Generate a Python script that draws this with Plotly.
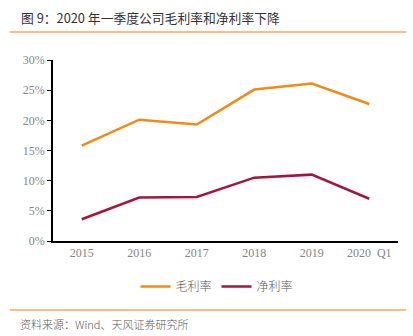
import plotly.graph_objects as go

categories = ["2015", "2016", "2017", "2018", "2019", "2020  Q1"]
gross_margin = [15.8, 20.1, 19.3, 25.1, 26.1, 22.7]
net_margin = [3.6, 7.2, 7.3, 10.5, 11.0, 7.0]
y_ticks = [0, 5, 10, 15, 20, 25, 30]
y_tick_text = [f"{v}%" for v in y_ticks]

title_text = "图 9：2020 年一季度公司毛利率和净利率下降"
source_text = "资料来源：Wind、天风证券研究所"

tick_font = dict(family="Liberation Serif, DejaVu Serif", size=12, color="#858585")

# plot area in pixels
L, R, T, B = 53, 15, 60, 95
W, H = 413 - L - R, 336 - T - B


def px_x(x):
    return (x - L) / W


def px_y(y):
    return (336 - B - y) / H


fig = go.Figure()
fig.add_trace(go.Scatter(
    x=categories, y=gross_margin, mode="lines", name="毛利率",
    line=dict(color="#EE8C1A", width=2.5),
))
fig.add_trace(go.Scatter(
    x=categories, y=net_margin, mode="lines", name="净利率",
    line=dict(color="#A3173F", width=2.5),
))

fig.update_layout(
    width=413, height=336,
    margin=dict(l=L, r=R, t=T, b=B),
    paper_bgcolor="white", plot_bgcolor="white",
    font=dict(family="Noto Sans CJK SC", color="#555555"),
    showlegend=True,
    legend=dict(
        orientation="h", x=px_x(217), xanchor="center", y=px_y(272), yanchor="top",
        font=dict(family="Noto Sans CJK SC", size=12, color="#595959", weight=300),
        itemwidth=30, tracegroupgap=0,
    ),
    xaxis=dict(
        type="category", showgrid=False, zeroline=False,
        showline=True, linecolor="#000000", linewidth=1.5,
        ticks="", tickfont=tick_font, range=[-0.5, 5.5],
    ),
    yaxis=dict(
        range=[0, 30], tickvals=y_ticks, ticktext=y_tick_text,
        showgrid=False, zeroline=False,
        showline=True, linecolor="#000000", linewidth=1.5,
        ticks="outside", ticklen=4, tickcolor="#000000",
        tickfont=tick_font,
    ),
)

# Header and footer text with orange rules
fig.add_annotation(
    text=title_text, xref="paper", yref="paper",
    x=px_x(19), y=px_y(18), xanchor="left", yanchor="middle", align="left",
    showarrow=False,
    font=dict(family="Noto Sans CJK SC", size=12.8, color="#333333", weight=400),
)
fig.add_annotation(
    text=source_text, xref="paper", yref="paper",
    x=px_x(18), y=px_y(324), xanchor="left", yanchor="middle", align="left",
    showarrow=False,
    font=dict(family="Noto Sans CJK SC", size=11, color="#595959", weight=300),
)
for y_px in (32, 310):
    fig.add_shape(
        type="line", xref="paper", yref="paper",
        x0=px_x(10), x1=px_x(406), y0=px_y(y_px), y1=px_y(y_px),
        line=dict(color="#F7A95A", width=1.5),
    )

fig.write_html("out.html")
